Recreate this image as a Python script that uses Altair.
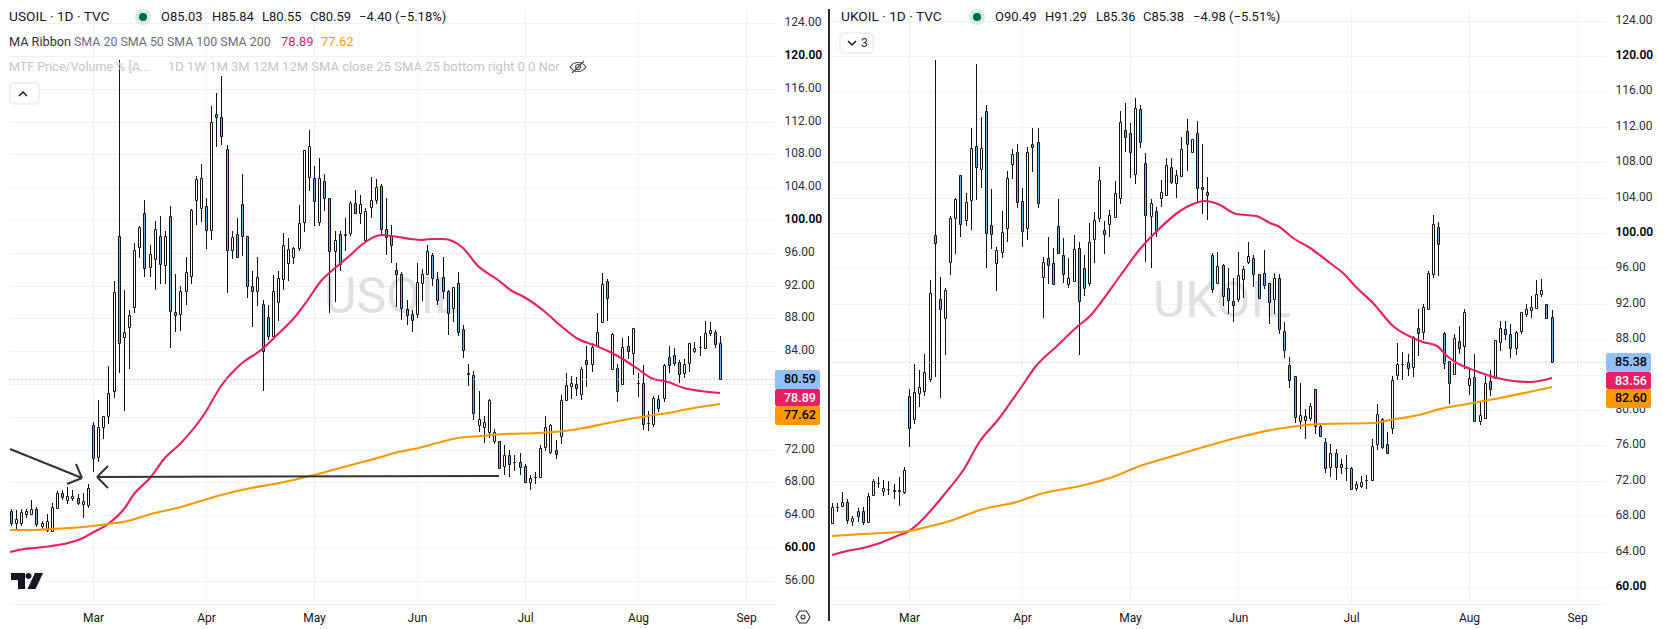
import altair as alt
import pandas as pd

# ---------- USOIL daily candles (index 0 = first bar of March) ----------
us_start = -16
us_open = [64.5,63.1,63.0,64.2,64.2,64.8,62.7,62.2,62.1,64.9,66.7,65.9,66.05,66.05,65.4,65.3,
74.96,71.1,74.7,76.1,79.1,98.0,85.7,86.9,89.4,96.7,100.9,94.3,95.2,98.0,94.5,100.45,88.8,88.5,91.3,93.2,102.4,101.5,
101.67,98.8,112.9,112.5,108.7,96.4,98.25,101.9,98.0,92.0,91.4,89.7,88.2,85.8,90.0,92.85,94.8,95.5,96.6,99.7,105.3,
105.1,99.7,104.8,102.65,96.2,98.25,98.25,98.4,102.1,100.9,97.5,101.6,102.4,104.15,98.86,98.05,93.85,93.37,89.1,88.5,
88.5,92.35,93.4,95.7,92.75,93.0,91.3,89.3,92.3,86.65,81.4,81.05,75.0,74.8,74.1,73.0,73.1,70.0,71.4,70.5,70.45,69.95,
68.0,68.6,68.6,72.35,71.75,71.95,73.6,78.0,79.7,79.95,78.8,82.9,82.4,84.65,87.6,92.5,
81.85,81.95,80.0,84.6,83.8,80.1,80.1,75.2,75.1,78.15,78.35,83.3,83.5,82.65,81.3,82.5,84.0,84.47,84.35,86.25,86.4,85.03]
us_high = [64.7,64.6,64.8,64.8,65.8,65.0,63.3,64.1,65.5,66.9,67.1,67.4,67.1,66.6,66.7,67.8,
75.4,78.0,76.1,82.2,92.6,119.5,91.5,89.0,97.2,99.3,102.4,97.0,99.9,100.5,98.7,101.7,93.4,91.9,95.5,101.3,105.4,106.8,
102.7,113.9,115.5,117.6,109.1,98.6,100.3,105.6,98.0,93.8,95.5,90.3,89.6,93.3,93.8,98.4,97.8,96.7,101.8,108.5,111.0,
106.6,107.5,105.6,102.7,98.6,98.6,100.3,102.3,103.6,103.1,101.5,105.3,105.0,104.4,102.64,99.35,94.8,93.65,90.2,89.0,
94.7,94.0,96.95,95.95,93.65,95.5,91.5,91.8,93.65,87.15,82.4,81.6,79.15,76.1,78.15,74.5,73.1,72.55,71.95,71.35,71.6,70.2,
68.9,69.3,72.5,76.1,75.15,73.2,78.65,81.3,81.0,80.85,82.1,84.6,84.95,88.65,93.5,92.75,
86.2,82.4,85.55,85.9,86.8,81.3,82.3,76.7,78.55,78.65,82.4,84.65,84.35,82.9,83.05,84.95,85.15,85.85,87.7,87.55,86.55,85.84]
us_low = [62.7,62.2,62.7,63.7,64.2,62.5,62.3,62.0,62.1,64.8,65.9,65.4,65.7,65.2,63.7,64.9,
69.3,70.5,73.3,75.1,78.3,81.3,76.75,81.85,88.7,95.4,93.0,93.0,91.5,92.2,92.2,84.4,86.4,86.5,89.6,92.2,99.4,99.7,
96.5,97.6,108.95,109.15,91.1,95.3,95.5,95.6,90.5,86.95,89.5,79.1,85.4,85.4,87.7,91.5,92.6,94.6,96.2,98.5,103.5,
99.3,99.3,101.1,88.7,90.0,93.8,96.2,98.05,100.7,99.5,97.2,100.3,102.0,98.05,95.7,94.8,89.4,87.8,87.15,86.4,
88.1,90.1,93.3,92.0,89.65,90.4,86.0,87.5,85.8,83.2,79.75,75.57,74.2,72.85,73.4,72.65,69.7,68.9,68.6,69.4,68.9,68.0,
67.1,67.85,68.6,71.8,71.5,70.9,72.7,78.0,78.2,78.5,78.0,79.65,81.5,84.55,87.4,87.7,
81.8,77.85,79.95,83.05,81.1,78.45,74.35,74.3,74.7,76.6,77.85,81.4,82.2,80.15,80.75,81.5,83.8,83.4,84.25,85.9,84.4,80.55]
us_close = [63.1,63.5,64.4,64.5,64.8,62.9,63.0,63.3,65.0,66.7,66.2,66.3,66.3,65.5,65.7,67.3,
71.0,74.8,76.05,78.9,91.2,85.0,86.4,88.4,96.3,99.2,94.2,95.9,98.95,94.6,98.0,88.9,88.4,91.3,93.7,101.2,105.0,105.1,
98.8,112.0,112.5,110.3,96.4,97.9,95.5,98.0,92.0,91.4,93.1,84.0,85.8,91.3,92.9,96.9,96.5,96.6,99.6,108.5,109.0,
102.3,105.1,102.65,96.2,97.6,94.6,98.2,102.1,100.8,101.9,101.1,102.4,104.0,98.95,97.96,96.9,93.45,89.3,88.45,87.75,
92.4,93.4,96.2,92.9,90.2,91.3,88.7,91.8,86.4,84.2,81.2,76.5,75.7,75.4,78.0,74.1,69.8,71.4,70.2,70.5,69.9,68.1,
68.5,68.65,72.15,74.7,75.0,71.5,78.0,79.85,80.15,79.55,81.8,82.4,84.5,86.4,92.25,90.45,
86.05,79.1,84.55,84.0,86.8,80.1,75.1,75.2,78.25,77.05,82.3,82.3,82.5,81.2,82.4,84.95,84.35,84.47,86.2,86.55,84.9,80.59]

# ---------- UKOIL daily candles ----------
uk_start = -15
uk_open = [67.27,69.05,69.1,69.65,67.45,68.6,68.55,67.4,70.35,71.7,70.8,71.1,70.8,70.8,70.75,
81.55,78.95,81.95,82.2,83.55,99.73,92.5,90.36,96.75,101.65,106.5,101.43,103.7,109.8,107.2,113.74,100.86,96.57,97.88,100.6,107.75,109.2,103.57,100.6,110.0,110.24,
95.0,97.13,96.57,100.82,97.47,94.27,94.57,98.34,96.08,94.38,99.28,101.65,100.3,100.97,101.8,103.9,111.6,111.26,106.62,113.97,107.87,101.9,102.44,103.99,104.25,107.5,105.68,106.45,111.5,109.1,111.3,105.24,104.6,
97.48,94.39,96.35,93.75,92.28,92.58,94.77,96.77,97.14,95.33,95.45,94.39,92.58,94.96,88.89,85.05,83.81,78.72,78.84,79.14,82.34,78.16,76.35,73.53,75.11,73.87,73.41,73.41,71.23,71.45,72.1,72.1,76.12,78.95,76.12,78.0,83.96,85.16,85.43,84.9,89.3,88.85,91.45,95.33,100.68,
88.74,85.54,84.03,87.76,87.2,82.79,83.77,78.76,79.06,83.28,83.66,87.73,89.12,88.55,87.05,88.9,90.89,91.34,91.5,93.15,91.94,90.49]
uk_high = [69.53,69.45,70.75,69.9,68.0,68.9,69.05,70.65,72.25,72.4,72.05,71.95,71.6,72.4,73.55,
82.4,85.25,84.5,86.3,94.65,119.54,95.0,93.8,101.9,104.0,106.5,104.55,111.9,119.13,113.1,114.46,104.93,98.4,102.48,107.0,109.45,110.0,105.1,109.7,111.86,111.86,
97.3,99.54,98.26,103.8,99.39,97.13,99.73,99.0,97.5,101.1,102.37,107.45,101.35,102.6,105.87,113.74,114.68,112.39,115.2,114.46,109.0,103.8,102.93,105.98,108.43,108.43,107.1,110.9,112.9,110.6,112.6,110.0,106.33,
97.7,97.86,96.46,96.1,94.95,97.82,96.27,98.95,97.52,95.4,98.08,94.39,95.52,95.41,89.95,85.99,83.81,83.02,80.08,80.76,82.34,78.31,76.8,76.12,75.56,74.43,74.92,73.56,71.98,72.55,72.66,76.69,80.72,79.14,77.52,83.85,87.57,86.56,86.3,88.37,91.38,91.94,95.71,101.99,101.25,
88.82,85.54,88.55,89.5,91.38,84.71,86.29,80.95,83.85,84.49,87.88,90.06,90.06,89.68,88.93,91.04,91.94,92.89,94.66,94.8,92.02,91.29]
uk_low = [67.2,68.5,69.1,67.15,66.9,67.4,66.95,67.4,70.35,71.15,70.3,70.35,70.0,69.15,70.55,
75.85,78.45,80.3,81.6,83.15,83.73,81.3,86.2,95.25,97.65,99.6,100.8,100.37,103.7,105.1,96.08,98.23,93.45,97.2,99.0,106.13,102.8,98.4,99.17,106.93,102.78,
90.44,94.2,94.2,97.66,94.38,93.82,94.57,86.18,92.9,94.0,96.64,101.28,97.66,99.55,101.73,103.3,109.2,106.25,105.57,109.64,96.76,96.08,99.58,102.93,104.25,105.5,103.9,106.4,107.0,109.0,103.36,102.19,101.44,
93.26,94.39,91.76,90.89,89.99,92.25,92.7,96.54,93.94,92.6,93.64,89.68,90.81,88.55,85.92,82.53,78.57,77.82,76.69,78.76,77.33,76.95,72.92,72.43,72.06,72.73,71.98,71.1,70.85,71.15,71.1,72.1,75.48,75.56,75.18,77.33,83.39,83.39,83.85,83.73,86.1,87.91,91.27,94.96,95.15,
84.67,80.72,84.03,86.37,84.67,81.66,78.76,78.27,79.06,81.59,83.47,86.67,87.88,85.92,86.22,88.63,90.55,90.44,91.5,92.81,90.25,85.36]
uk_close = [69.05,69.0,69.65,67.55,67.75,68.05,67.3,70.3,71.95,71.7,71.15,71.1,71.0,71.0,73.2,
78.0,82.0,82.55,84.3,93.25,98.9,91.4,93.6,101.75,103.8,100.97,103.46,109.56,107.5,109.56,100.03,99.85,98.03,100.07,106.25,108.88,103.46,100.18,109.2,109.67,103.35,
96.68,96.34,94.2,97.77,95.33,94.87,98.15,92.3,93.74,99.0,101.5,105.95,99.84,102.0,104.48,112.5,110.84,109.2,114.08,110.24,102.03,103.35,100.22,104.6,107.64,105.72,106.51,109.5,110.0,110.6,105.13,104.94,104.26,
93.64,96.24,92.89,92.4,91.83,95.22,95.9,97.37,95.33,92.7,94.09,92.25,94.96,89.12,86.75,83.36,79.25,79.4,79.33,80.42,78.2,77.03,73.41,75.11,73.6,73.6,73.41,71.1,71.6,71.9,72.1,75.94,79.51,75.86,75.18,83.39,85.16,85.16,84.79,88.29,88.74,91.64,95.45,100.98,98.72,
85.35,83.02,88.1,86.97,91.04,83.66,78.76,79.4,83.09,82.34,87.88,89.23,88.55,86.97,88.82,91.04,91.42,91.61,93.15,93.53,90.36,85.38]

# ---------- moving averages: bar index, price ----------
us_red_x = [-16.2,-13.4,-11.4,-8.2,-4.9,-2,-0.1,2.85,6.1,8,11.3,13.9,17.1,21.7,24.9,28.8,32.7,35.9,39.2,41.7,44.4,47,49.5,52.8,56,59.3,61.9,63.8,65.8,68,71.9,74.8,78.7,81.6,83.9,87.8,91,94.3,97.5,100.1,102.7,106,108.6,111.8,115,118.3,122]
us_red_y = [59.5,59.83,59.96,60.2,60.65,61.18,61.87,62.88,64.71,66.54,68.66,70.81,72.84,76.5,79.75,82.4,84.2,86.05,88.1,90.12,92.56,94.2,95.4,97.16,98.13,97.96,97.64,97.52,97.72,97.68,96.54,94.51,92.64,91.34,90.65,88.9,87.07,85.44,84.71,84.02,83.13,81.79,80.77,80.28,79.55,79.14,78.89]
us_org_x = [-16.2,-11.4,-8.2,-1.7,2.85,6.75,11.3,17.1,21,24.9,30.7,35.3,39.8,43.7,50.2,56,59.3,62.5,67,71,75.5,80,86.5,91.7,95.6,100.1,106.6,111.8,115.7,122]
us_org_y = [62.23,62.23,62.27,62.52,62.88,63.29,64.1,65.04,65.73,66.42,67.27,67.76,68.37,69.06,70.12,71.14,71.75,72.12,72.85,73.38,73.66,73.87,74.07,74.27,74.6,75.29,76.02,76.51,76.91,77.62]
uk_red_x = [-15,-12.1,-8.9,-5.6,-2.4,-0.1,2.8,4.7,6.7,10.6,13.8,17.1,21.6,24.8,28.7,32.9,35.2,37.5,41,44.9,48.5,52.7,55.3,57.6,60.2,63.7,67.6,70.2,71.8,74.8,78,81.9,84.5,87.1,90.3,94.2,98.1,100,102.7,104.6,106.6,110.4,114.3,117.6,120.8,125]
uk_red_y = [63.66,64.07,64.37,65.01,65.77,66.33,67.65,68.97,70.29,73.3,76.5,78.76,82.34,84.98,87.2,89.5,90.63,92.32,95.14,98.15,100.3,102.5,103.32,103.62,103.32,102.19,101.89,101.17,100.8,99.4,98.35,96.65,95.52,93.83,92.13,89.5,88.18,87.73,87.24,86.11,85.35,84.41,83.65,83.28,83.17,83.56]
uk_org_x = [-15,-8.9,-0.1,2.8,8,13.8,21.6,25.5,33.3,39.1,44.9,52.7,57.9,63.7,72.8,79.9,90.3,93.6,100,103.3,108.5,115,125]
uk_org_y = [65.77,66.03,66.33,66.63,67.46,68.67,69.72,70.47,71.42,72.36,73.68,75.0,75.94,76.8,78.0,78.38,78.57,78.84,79.51,80.08,80.65,81.32,82.6]

# ---------- hand-drawn arrows on the USOIL panel (bar index / price) ----------
arrow_x1 = [-16.1,-2.14,-5.06,0.78,0.78,0.78]
arrow_y1 = [72.1,68.54,67.8,68.66,68.66,68.66]
arrow_x2 = [-2.14,-3.3,-2.14,79.0,2.92,2.92]
arrow_y2 = [68.54,70.24,68.54,68.78,70.0,67.32]

# ---------- axes ----------
us_ticks = [0,22,43,63,84,106,127]
uk_ticks = [0,22,43,64,86,109,130]
month_labels = ["Mar","Apr","May","Jun","Jul","Aug","Sep"]
us_prices = list(range(56,128,4))
uk_prices = list(range(60,128,4))
us_hidden = [80,76]   # these two labels sit fully under the price tags
uk_hidden = [84]

BLUE = "#6aaef5"
UP = "#ffffff"
INK = "#131722"
RED = "#e91e63"
ORANGE = "#ff9800"
FONT = "Roboto"
GRID = "#f0f1f3"
one = pd.DataFrame({"a":[0]})

def text(s,x,y,color=INK,size=13,align="left",weight=400,font=FONT):
    return alt.Chart(one).mark_text(text=s,align=align,baseline="middle",fontSize=size,
        fontWeight=weight,font=font,color=color).encode(x=alt.value(x),y=alt.value(y))

def icon(path,x,y,color,filled=False,width=1.2):
    kw = dict(fill=color,stroke=color,strokeWidth=0.1) if filled else dict(fill="transparent",stroke=color,strokeWidth=width)
    return alt.Chart(one).mark_point(shape=path,size=4,filled=filled,opacity=1,**kw).encode(x=alt.value(x),y=alt.value(y))

def box(x,x2,y,y2,stroke="#e0e3eb"):
    return alt.Chart(one).mark_rect(fill="white",stroke=stroke,strokeWidth=1,cornerRadius=3).encode(
        x=alt.value(x),x2=alt.value(x2),y=alt.value(y),y2=alt.value(y2))

def dot(x,y,size,color):
    return alt.Chart(one).mark_circle(size=size,color=color,opacity=1).encode(x=alt.value(x),y=alt.value(y))

def panel(start,o,h,l,c,red_x,red_y,org_x,org_y,xdom,ydom,w,ticks,prices,hidden,extent,dot_color,tags,tag_x,extra_back,extra_front):
    n = len(o)
    df = pd.DataFrame({"i":list(range(start,start+n)),"open":o,"high":h,"low":l,"close":c})
    df["top"] = df[["open","close"]].max(axis=1)
    df["bot"] = df[["open","close"]].min(axis=1)
    xs = alt.Scale(domain=xdom,nice=False,zero=False,round=True,padding=0)
    ys = alt.Scale(domain=ydom,nice=False,zero=False,round=True,padding=0)
    label_map = "{" + ",".join(f"'{t}':'{m}'" for t,m in zip(ticks,month_labels)) + "}"
    xaxis = alt.Axis(values=ticks,labelExpr=label_map+"[datum.value]",grid=True,gridColor=GRID,gridWidth=1,
        ticks=False,domain=True,domainColor="#eeeff2",labelFont=FONT,labelFontSize=12,labelColor=INK,labelAngle=0,
        labelPadding=8,labelOverlap=False,labelFlush=False,title=None,minExtent=22,maxExtent=22)
    strong = "datum.value==120||datum.value==100||datum.value==60"
    hide = "||".join(f"datum.value=={v}" for v in hidden)
    yaxis = alt.Axis(orient="right",values=prices,labelExpr=f"({hide})?'':format(datum.value,'.2f')",
        grid=True,gridColor=GRID,gridWidth=1,ticks=False,
        domain=False,labelFont=FONT,labelFontSize=12,labelPadding=9,labelOffset=-1.5,labelOverlap=False,title=None,
        labelColor={"condition":{"test":strong,"value":"#000000"},"value":"#2a2e39"},
        labelFontWeight={"condition":{"test":strong,"value":600},"value":400},
        minExtent=extent,maxExtent=extent)
    X = alt.X("i:Q",scale=xs,axis=None)
    Y = alt.Y("p:Q",scale=ys,axis=None)
    axes_layer = alt.Chart(df).mark_rule(opacity=0).encode(
        x=alt.X("i:Q",scale=xs,axis=xaxis),y=alt.Y("low:Q",scale=ys,axis=yaxis),y2="high:Q")
    wicks = alt.Chart(df).mark_rule(color="#111111",strokeWidth=1,clip=True,xOffset=0.5).encode(
        x=X,y=alt.Y("low:Q",scale=ys,axis=None),y2="high:Q")
    bodies = alt.Chart(df).mark_bar(width=2,stroke="#111111",strokeWidth=1,clip=True,orient="vertical",
                                    xOffset=0.5,yOffset=0.5,y2Offset=0.5).encode(
        x=X,y=alt.Y("bot:Q",scale=ys,axis=None),y2="top:Q",
        fill=alt.condition("datum.close<datum.open",alt.value(BLUE),alt.value(UP)))
    def ma(xv,yv,color):
        return alt.Chart(pd.DataFrame({"i":xv,"p":yv})).mark_line(color=color,strokeWidth=2.1,clip=True,
            interpolate="monotone").encode(x=X,y=Y)
    last_line = alt.Chart(pd.DataFrame({"p":[c[-1]]})).mark_rule(color=dot_color,strokeWidth=1,strokeDash=[1,3],yOffset=0.5).encode(y=Y)
    tag_df = pd.DataFrame(tags,columns=["top","bot","mid","txt","bg","fg"])
    tag_rect = alt.Chart(tag_df).mark_rect(cornerRadius=2).encode(
        x=alt.value(tag_x),x2=alt.value(tag_x+45),y=alt.Y("top:Q",scale=ys,axis=None),y2="bot:Q",
        fill=alt.Color("bg:N",scale=None))
    tag_txt = alt.Chart(tag_df).mark_text(align="left",baseline="middle",fontSize=12.5,font=FONT,fontWeight=500).encode(
        x=alt.value(tag_x+9),y=alt.Y("mid:Q",scale=ys,axis=None),text="txt:N",color=alt.Color("fg:N",scale=None))
    layers = [axes_layer] + extra_back + [wicks,bodies,ma(red_x,red_y,RED),ma(org_x,org_y,ORANGE),last_line,tag_rect,tag_txt] + extra_front
    return alt.layer(*layers).resolve_axis(x="independent",y="independent").properties(width=w,height=595)

# ---------- panel furniture ----------
eye = ("M-8,0 C-4,-6 4,-6 8,0 C4,6 -4,6 -8,0 Z M-2.5,0 A2.5,2.5 0 1,0 2.5,0 A2.5,2.5 0 1,0 -2.5,0 M-6,6 L6,-6")
hexa = "M-7,0 L-3.5,-6 L3.5,-6 L7,0 L3.5,6 L-3.5,6 Z M2,0 A2,2 0 1,0 -2,0 A2,2 0 1,0 2,0"
logo = ("M-16,-8 H-2 V8 H-9 V-1 H-16 Z M4.5,-5 A3,3 0 1,0 -1.5,-5 A3,3 0 1,0 4.5,-5 Z "
        "M16,-8 L8.5,8 H0.5 L8,-8 Z")

arrows = pd.DataFrame({"i":arrow_x1,"p":arrow_y1,"i2":arrow_x2,"p2":arrow_y2})
us_xs = alt.Scale(domain=[-16.34,132.68],nice=False,zero=False,round=True,padding=0)
us_ys = alt.Scale(domain=[53.17,125.73],nice=False,zero=False,round=True,padding=0)
arrow_layer = alt.Chart(arrows).mark_rule(color="#333333",strokeWidth=2,clip=True).encode(
    x=alt.X("i:Q",scale=us_xs,axis=None),x2="i2:Q",y=alt.Y("p:Q",scale=us_ys,axis=None),y2="p2:Q")

us_back = [text("USOIL",315,289,color="#dfe0e3",size=50)]
us_front = [arrow_layer,
    text("USOIL · 1D · TVC",0,8,size=13.7),
    dot(134,8,260,"#d3ebe7"),dot(134,8,64,"#056656"),
    text("O85.03",152,8),text("H85.84",203,8),text("L80.55",253,8),text("C80.59",301,8),
    text("−4.40 (−5.18%)",350,8),
    text("MA Ribbon",0,33,color="#2a2e39",size=12.7),
    text("SMA 20 SMA 50 SMA 100 SMA 200",65,33,color="#6a6d78",size=12.4),
    text("78.89",272,33,color=RED),text("77.62",312,33,color=ORANGE),
    text("MTF Price/Volume % [A...",0,58,color="#c2c4cb",size=12.5),
    text("1D 1W 1M 3M 12M 12M SMA close 25 SMA 25 bottom right 0 0 Nor",159,58,color="#c2c4cb"),
    icon(eye,569,58,"#4a4d57"),
    box(1,30,74,95),icon("M-4,2 L0,-2 L4,2",14,85,"#131722",width=1.5),
    icon(logo,18,572,"#131722",filled=True),
    icon(hexa,794,608,"#2a2e39",width=1.1),
    alt.Chart(one).mark_rule(color="#2b2b2b",strokeWidth=2).encode(
        x=alt.value(820),y=alt.value(0),y2=alt.value(612)),
]
us_tags = [(81.71,79.39,80.55,"80.59","#90bff9","#000000"),
           (79.39,77.32,78.35,"78.89",RED,"#ffffff"),
           (77.32,75.0,76.16,"77.62",ORANGE,"#000000")]

uk_back = [text("UKOIL",322,293,color="#dfe0e3",size=50)]
uk_front = [
    text("UKOIL · 1D · TVC",10,8,size=13.7),
    dot(146,8,260,"#d3ebe7"),dot(146,8,64,"#056656"),
    text("O90.49",164,8),text("H91.29",214,8),text("L85.36",265,8),text("C85.38",312,8),
    text("−4.98 (−5.51%)",362,8),
    box(9,42,24,44),icon("M-4,-2 L0,2 L4,-2",21,34,"#131722",width=1.5),text("3",30,34,color="#2a2e39",size=12),
]
uk_tags = [(86.44,84.29,85.38,"85.38","#90bff9","#000000"),
           (84.29,82.37,83.33,"83.56",RED,"#ffffff"),
           (82.37,80.23,81.3,"82.60",ORANGE,"#000000")]

left = panel(us_start,us_open,us_high,us_low,us_close,us_red_x,us_red_y,us_org_x,us_org_y,
             [-16.34,132.68],[53.17,125.73],766,us_ticks,us_prices,us_hidden,55,"#90bff9",us_tags,766,us_back,us_front)
right = panel(uk_start,uk_open,uk_high,uk_low,uk_close,uk_red_x,uk_red_y,uk_org_x,uk_org_y,
              [-15.18,135.6],[58.08,125.31],775,uk_ticks,uk_prices,uk_hidden,46,"#a9bcdc",uk_tags,775,uk_back,uk_front)

chart = alt.hconcat(left,right,spacing=0,padding=0,background="white").configure_view(stroke=None)
chart.save("out.html", embed_options={"renderer": "svg", "actions": False})
